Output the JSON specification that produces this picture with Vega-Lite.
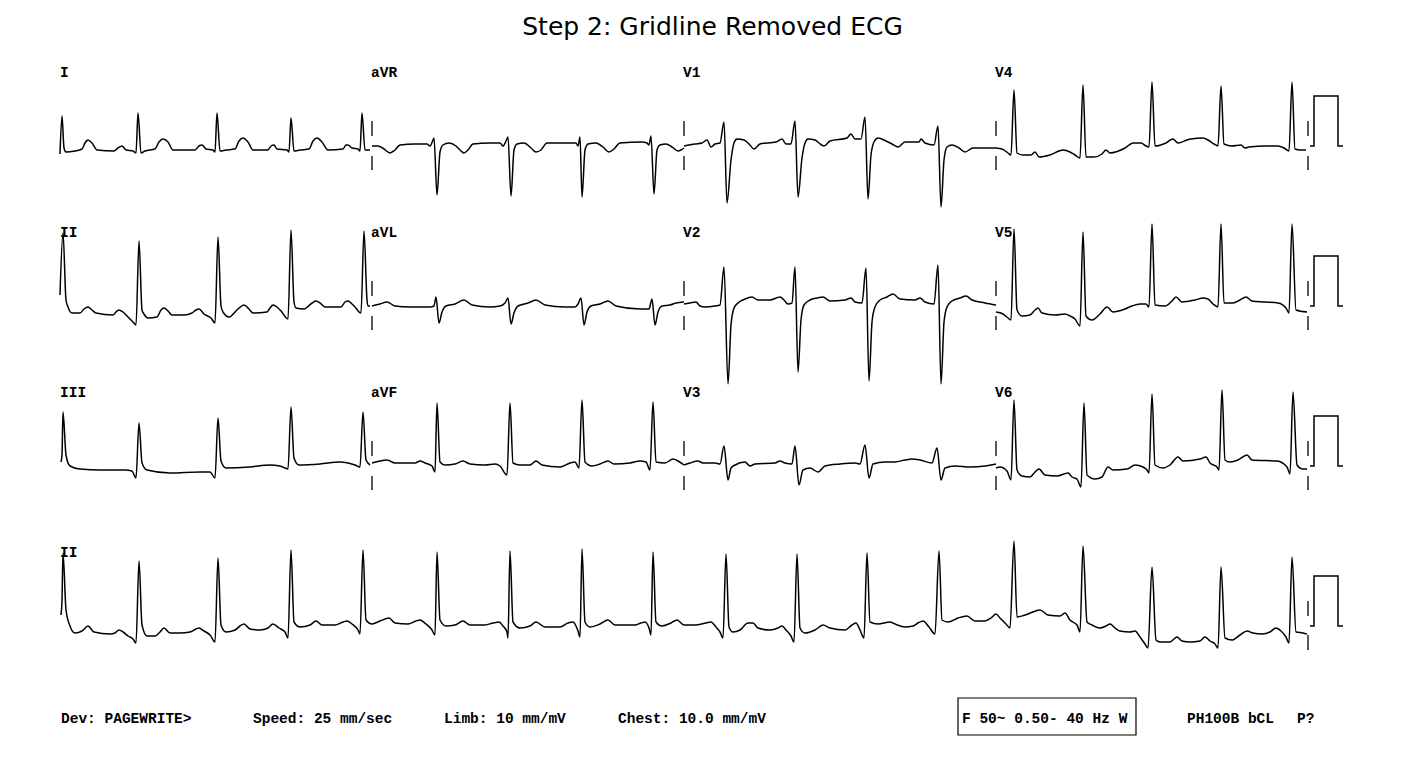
{
"$schema": "https://vega.github.io/schema/vega-lite/v6.json",
"width": 1425, "height": 764,
"autosize": {"type": "fit", "contains": "padding"},
"padding": 0,
"background": "white",
"config": {"view": {"stroke": null}},
"datasets": {
"tr": [
{"s":"I","x":60,"y":154},{"s":"I","x":62,"y":116},{"s":"I","x":64,"y":148},{"s":"I","x":66,"y":152},{"s":"I","x":75,"y":151},{"s":"I","x":82,"y":149},{"s":"I","x":85,"y":143},{"s":"I","x":88,"y":140},{"s":"I","x":92,"y":143},{"s":"I","x":97,"y":150},{"s":"I","x":114,"y":151},{"s":"I","x":118,"y":148},{"s":"I","x":122,"y":146},{"s":"I","x":126,"y":150},{"s":"I","x":133,"y":151},{"s":"I","x":136,"y":153},{"s":"I","x":138,"y":113},{"s":"I","x":141,"y":153},{"s":"I","x":145,"y":151},{"s":"I","x":155,"y":149},{"s":"I","x":159,"y":142},{"s":"I","x":163,"y":139},{"s":"I","x":168,"y":142},{"s":"I","x":173,"y":150},{"s":"I","x":195,"y":150},{"s":"I","x":199,"y":146},{"s":"I","x":202,"y":145},{"s":"I","x":206,"y":149},{"s":"I","x":213,"y":150},{"s":"I","x":215,"y":152},{"s":"I","x":217,"y":113},{"s":"I","x":220,"y":151},{"s":"I","x":226,"y":150},{"s":"I","x":235,"y":149},{"s":"I","x":239,"y":141},{"s":"I","x":243,"y":138},{"s":"I","x":248,"y":142},{"s":"I","x":253,"y":150},{"s":"I","x":268,"y":150},{"s":"I","x":271,"y":146},{"s":"I","x":274,"y":145},{"s":"I","x":277,"y":149},{"s":"I","x":287,"y":150},{"s":"I","x":289,"y":152},{"s":"I","x":291,"y":118},{"s":"I","x":294,"y":151},{"s":"I","x":300,"y":150},{"s":"I","x":309,"y":149},{"s":"I","x":313,"y":141},{"s":"I","x":317,"y":138},{"s":"I","x":322,"y":142},{"s":"I","x":328,"y":150},{"s":"I","x":343,"y":149},{"s":"I","x":346,"y":145},{"s":"I","x":348,"y":145},{"s":"I","x":352,"y":148},{"s":"I","x":358,"y":149},{"s":"I","x":360,"y":151},{"s":"I","x":362,"y":113},{"s":"I","x":365,"y":150},{"s":"I","x":370,"y":150},
{"s":"aVR","x":372,"y":146},{"s":"aVR","x":378,"y":146},{"s":"aVR","x":384,"y":149},{"s":"aVR","x":390,"y":153},{"s":"aVR","x":395,"y":150},{"s":"aVR","x":400,"y":145},{"s":"aVR","x":415,"y":144},{"s":"aVR","x":427,"y":144},{"s":"aVR","x":430,"y":146},{"s":"aVR","x":433,"y":140},{"s":"aVR","x":434,"y":138},{"s":"aVR","x":437,"y":195},{"s":"aVR","x":440,"y":152},{"s":"aVR","x":443,"y":145},{"s":"aVR","x":449,"y":143},{"s":"aVR","x":456,"y":146},{"s":"aVR","x":461,"y":151},{"s":"aVR","x":464,"y":153},{"s":"aVR","x":468,"y":150},{"s":"aVR","x":473,"y":144},{"s":"aVR","x":490,"y":143},{"s":"aVR","x":500,"y":143},{"s":"aVR","x":503,"y":146},{"s":"aVR","x":506,"y":141},{"s":"aVR","x":508,"y":137},{"s":"aVR","x":511,"y":196},{"s":"aVR","x":514,"y":150},{"s":"aVR","x":517,"y":144},{"s":"aVR","x":524,"y":143},{"s":"aVR","x":531,"y":148},{"s":"aVR","x":536,"y":152},{"s":"aVR","x":541,"y":150},{"s":"aVR","x":547,"y":143},{"s":"aVR","x":570,"y":143},{"s":"aVR","x":576,"y":143},{"s":"aVR","x":578,"y":146},{"s":"aVR","x":580,"y":137},{"s":"aVR","x":582,"y":197},{"s":"aVR","x":585,"y":150},{"s":"aVR","x":588,"y":144},{"s":"aVR","x":596,"y":143},{"s":"aVR","x":603,"y":147},{"s":"aVR","x":609,"y":152},{"s":"aVR","x":614,"y":149},{"s":"aVR","x":620,"y":143},{"s":"aVR","x":642,"y":142},{"s":"aVR","x":647,"y":143},{"s":"aVR","x":649,"y":145},{"s":"aVR","x":651,"y":136},{"s":"aVR","x":654,"y":194},{"s":"aVR","x":657,"y":150},{"s":"aVR","x":660,"y":145},{"s":"aVR","x":666,"y":144},{"s":"aVR","x":672,"y":147},{"s":"aVR","x":678,"y":151},{"s":"aVR","x":681,"y":150},{"s":"aVR","x":684,"y":148},
{"s":"V1","x":684,"y":146},{"s":"V1","x":695,"y":144},{"s":"V1","x":702,"y":143},{"s":"V1","x":707,"y":140},{"s":"V1","x":711,"y":147},{"s":"V1","x":715,"y":144},{"s":"V1","x":720,"y":143},{"s":"V1","x":724,"y":122},{"s":"V1","x":727,"y":203},{"s":"V1","x":731,"y":160},{"s":"V1","x":734,"y":143},{"s":"V1","x":737,"y":139},{"s":"V1","x":744,"y":140},{"s":"V1","x":749,"y":144},{"s":"V1","x":754,"y":149},{"s":"V1","x":760,"y":144},{"s":"V1","x":776,"y":142},{"s":"V1","x":782,"y":139},{"s":"V1","x":786,"y":144},{"s":"V1","x":791,"y":144},{"s":"V1","x":795,"y":121},{"s":"V1","x":798,"y":197},{"s":"V1","x":802,"y":158},{"s":"V1","x":805,"y":143},{"s":"V1","x":808,"y":139},{"s":"V1","x":815,"y":140},{"s":"V1","x":819,"y":143},{"s":"V1","x":824,"y":146},{"s":"V1","x":830,"y":141},{"s":"V1","x":847,"y":138},{"s":"V1","x":851,"y":134},{"s":"V1","x":855,"y":139},{"s":"V1","x":861,"y":139},{"s":"V1","x":865,"y":117},{"s":"V1","x":868,"y":199},{"s":"V1","x":871,"y":155},{"s":"V1","x":874,"y":142},{"s":"V1","x":878,"y":138},{"s":"V1","x":886,"y":141},{"s":"V1","x":892,"y":144},{"s":"V1","x":898,"y":147},{"s":"V1","x":905,"y":142},{"s":"V1","x":919,"y":142},{"s":"V1","x":921,"y":139},{"s":"V1","x":925,"y":143},{"s":"V1","x":934,"y":145},{"s":"V1","x":938,"y":126},{"s":"V1","x":941,"y":207},{"s":"V1","x":944,"y":160},{"s":"V1","x":947,"y":147},{"s":"V1","x":952,"y":145},{"s":"V1","x":959,"y":148},{"s":"V1","x":965,"y":152},{"s":"V1","x":973,"y":148},{"s":"V1","x":985,"y":148},{"s":"V1","x":996,"y":148},
{"s":"V4","x":996,"y":148},{"s":"V4","x":1002,"y":149},{"s":"V4","x":1008,"y":153},{"s":"V4","x":1011,"y":155},{"s":"V4","x":1014,"y":90},{"s":"V4","x":1017,"y":153},{"s":"V4","x":1023,"y":155},{"s":"V4","x":1031,"y":155},{"s":"V4","x":1035,"y":152},{"s":"V4","x":1039,"y":157},{"s":"V4","x":1050,"y":155},{"s":"V4","x":1063,"y":150},{"s":"V4","x":1070,"y":152},{"s":"V4","x":1075,"y":155},{"s":"V4","x":1080,"y":158},{"s":"V4","x":1083,"y":85},{"s":"V4","x":1086,"y":157},{"s":"V4","x":1094,"y":157},{"s":"V4","x":1102,"y":154},{"s":"V4","x":1106,"y":150},{"s":"V4","x":1110,"y":153},{"s":"V4","x":1125,"y":148},{"s":"V4","x":1133,"y":143},{"s":"V4","x":1141,"y":143},{"s":"V4","x":1146,"y":146},{"s":"V4","x":1149,"y":147},{"s":"V4","x":1152,"y":82},{"s":"V4","x":1155,"y":146},{"s":"V4","x":1166,"y":143},{"s":"V4","x":1173,"y":139},{"s":"V4","x":1178,"y":143},{"s":"V4","x":1187,"y":140},{"s":"V4","x":1191,"y":139},{"s":"V4","x":1203,"y":138},{"s":"V4","x":1208,"y":140},{"s":"V4","x":1214,"y":144},{"s":"V4","x":1218,"y":146},{"s":"V4","x":1221,"y":86},{"s":"V4","x":1224,"y":144},{"s":"V4","x":1232,"y":146},{"s":"V4","x":1241,"y":145},{"s":"V4","x":1245,"y":148},{"s":"V4","x":1249,"y":147},{"s":"V4","x":1266,"y":146},{"s":"V4","x":1278,"y":146},{"s":"V4","x":1284,"y":148},{"s":"V4","x":1289,"y":151},{"s":"V4","x":1292,"y":82},{"s":"V4","x":1295,"y":149},{"s":"V4","x":1300,"y":150},{"s":"V4","x":1306,"y":150},
{"s":"II","x":60,"y":295},{"s":"II","x":63,"y":233},{"s":"II","x":66,"y":300},{"s":"II","x":68,"y":307},{"s":"II","x":72,"y":313},{"s":"II","x":80,"y":313},{"s":"II","x":84,"y":309},{"s":"II","x":88,"y":307},{"s":"II","x":92,"y":310},{"s":"II","x":96,"y":313},{"s":"II","x":113,"y":315},{"s":"II","x":116,"y":312},{"s":"II","x":119,"y":310},{"s":"II","x":123,"y":312},{"s":"II","x":128,"y":317},{"s":"II","x":133,"y":322},{"s":"II","x":136,"y":325},{"s":"II","x":139,"y":241},{"s":"II","x":142,"y":310},{"s":"II","x":144,"y":314},{"s":"II","x":148,"y":318},{"s":"II","x":157,"y":317},{"s":"II","x":161,"y":310},{"s":"II","x":164,"y":308},{"s":"II","x":168,"y":311},{"s":"II","x":172,"y":315},{"s":"II","x":184,"y":315},{"s":"II","x":192,"y":313},{"s":"II","x":196,"y":310},{"s":"II","x":199,"y":309},{"s":"II","x":204,"y":314},{"s":"II","x":211,"y":318},{"s":"II","x":215,"y":323},{"s":"II","x":218,"y":237},{"s":"II","x":221,"y":306},{"s":"II","x":223,"y":312},{"s":"II","x":229,"y":317},{"s":"II","x":238,"y":309},{"s":"II","x":244,"y":305},{"s":"II","x":249,"y":309},{"s":"II","x":253,"y":313},{"s":"II","x":267,"y":312},{"s":"II","x":270,"y":308},{"s":"II","x":273,"y":305},{"s":"II","x":277,"y":307},{"s":"II","x":281,"y":311},{"s":"II","x":288,"y":319},{"s":"II","x":291,"y":230},{"s":"II","x":294,"y":302},{"s":"II","x":296,"y":308},{"s":"II","x":304,"y":309},{"s":"II","x":312,"y":303},{"s":"II","x":316,"y":301},{"s":"II","x":320,"y":303},{"s":"II","x":325,"y":307},{"s":"II","x":341,"y":307},{"s":"II","x":345,"y":302},{"s":"II","x":348,"y":301},{"s":"II","x":352,"y":304},{"s":"II","x":355,"y":307},{"s":"II","x":361,"y":313},{"s":"II","x":364,"y":231},{"s":"II","x":367,"y":300},{"s":"II","x":368,"y":306},{"s":"II","x":370,"y":306},
{"s":"aVL","x":372,"y":306},{"s":"aVL","x":380,"y":304},{"s":"aVL","x":387,"y":302},{"s":"aVL","x":395,"y":306},{"s":"aVL","x":410,"y":307},{"s":"aVL","x":430,"y":307},{"s":"aVL","x":434,"y":306},{"s":"aVL","x":436,"y":297},{"s":"aVL","x":439,"y":323},{"s":"aVL","x":442,"y":312},{"s":"aVL","x":446,"y":306},{"s":"aVL","x":455,"y":304},{"s":"aVL","x":464,"y":300},{"s":"aVL","x":472,"y":305},{"s":"aVL","x":490,"y":307},{"s":"aVL","x":500,"y":306},{"s":"aVL","x":505,"y":303},{"s":"aVL","x":508,"y":298},{"s":"aVL","x":511,"y":324},{"s":"aVL","x":514,"y":313},{"s":"aVL","x":518,"y":306},{"s":"aVL","x":528,"y":303},{"s":"aVL","x":536,"y":300},{"s":"aVL","x":545,"y":305},{"s":"aVL","x":565,"y":307},{"s":"aVL","x":575,"y":307},{"s":"aVL","x":578,"y":304},{"s":"aVL","x":581,"y":298},{"s":"aVL","x":584,"y":325},{"s":"aVL","x":587,"y":312},{"s":"aVL","x":591,"y":306},{"s":"aVL","x":600,"y":304},{"s":"aVL","x":608,"y":301},{"s":"aVL","x":616,"y":306},{"s":"aVL","x":640,"y":309},{"s":"aVL","x":649,"y":309},{"s":"aVL","x":652,"y":299},{"s":"aVL","x":655,"y":325},{"s":"aVL","x":658,"y":312},{"s":"aVL","x":662,"y":306},{"s":"aVL","x":670,"y":305},{"s":"aVL","x":676,"y":303},{"s":"aVL","x":684,"y":302},
{"s":"V2","x":684,"y":304},{"s":"V2","x":690,"y":303},{"s":"V2","x":696,"y":302},{"s":"V2","x":700,"y":306},{"s":"V2","x":705,"y":307},{"s":"V2","x":715,"y":306},{"s":"V2","x":720,"y":305},{"s":"V2","x":724,"y":267},{"s":"V2","x":728,"y":384},{"s":"V2","x":731,"y":325},{"s":"V2","x":734,"y":308},{"s":"V2","x":738,"y":303},{"s":"V2","x":745,"y":299},{"s":"V2","x":752,"y":297},{"s":"V2","x":758,"y":300},{"s":"V2","x":770,"y":300},{"s":"V2","x":780,"y":297},{"s":"V2","x":784,"y":300},{"s":"V2","x":788,"y":304},{"s":"V2","x":792,"y":303},{"s":"V2","x":795,"y":267},{"s":"V2","x":798,"y":372},{"s":"V2","x":801,"y":320},{"s":"V2","x":804,"y":305},{"s":"V2","x":810,"y":300},{"s":"V2","x":817,"y":298},{"s":"V2","x":823,"y":297},{"s":"V2","x":830,"y":301},{"s":"V2","x":845,"y":300},{"s":"V2","x":851,"y":298},{"s":"V2","x":855,"y":302},{"s":"V2","x":862,"y":303},{"s":"V2","x":866,"y":268},{"s":"V2","x":869,"y":381},{"s":"V2","x":872,"y":322},{"s":"V2","x":875,"y":307},{"s":"V2","x":880,"y":300},{"s":"V2","x":887,"y":297},{"s":"V2","x":893,"y":294},{"s":"V2","x":900,"y":299},{"s":"V2","x":915,"y":300},{"s":"V2","x":920,"y":298},{"s":"V2","x":925,"y":302},{"s":"V2","x":934,"y":304},{"s":"V2","x":938,"y":265},{"s":"V2","x":941,"y":384},{"s":"V2","x":944,"y":322},{"s":"V2","x":947,"y":307},{"s":"V2","x":952,"y":301},{"s":"V2","x":960,"y":298},{"s":"V2","x":966,"y":296},{"s":"V2","x":972,"y":300},{"s":"V2","x":985,"y":303},{"s":"V2","x":996,"y":305},
{"s":"V5","x":996,"y":312},{"s":"V5","x":1003,"y":314},{"s":"V5","x":1008,"y":318},{"s":"V5","x":1011,"y":320},{"s":"V5","x":1014,"y":229},{"s":"V5","x":1017,"y":310},{"s":"V5","x":1022,"y":316},{"s":"V5","x":1030,"y":315},{"s":"V5","x":1035,"y":310},{"s":"V5","x":1038,"y":308},{"s":"V5","x":1042,"y":313},{"s":"V5","x":1055,"y":315},{"s":"V5","x":1065,"y":314},{"s":"V5","x":1070,"y":316},{"s":"V5","x":1075,"y":319},{"s":"V5","x":1080,"y":326},{"s":"V5","x":1083,"y":232},{"s":"V5","x":1086,"y":316},{"s":"V5","x":1092,"y":320},{"s":"V5","x":1100,"y":314},{"s":"V5","x":1107,"y":307},{"s":"V5","x":1113,"y":312},{"s":"V5","x":1125,"y":309},{"s":"V5","x":1132,"y":306},{"s":"V5","x":1140,"y":304},{"s":"V5","x":1146,"y":304},{"s":"V5","x":1149,"y":307},{"s":"V5","x":1152,"y":224},{"s":"V5","x":1155,"y":305},{"s":"V5","x":1165,"y":306},{"s":"V5","x":1172,"y":301},{"s":"V5","x":1176,"y":297},{"s":"V5","x":1182,"y":302},{"s":"V5","x":1195,"y":300},{"s":"V5","x":1203,"y":298},{"s":"V5","x":1208,"y":299},{"s":"V5","x":1213,"y":304},{"s":"V5","x":1218,"y":307},{"s":"V5","x":1221,"y":224},{"s":"V5","x":1224,"y":303},{"s":"V5","x":1233,"y":303},{"s":"V5","x":1240,"y":300},{"s":"V5","x":1246,"y":297},{"s":"V5","x":1252,"y":301},{"s":"V5","x":1265,"y":302},{"s":"V5","x":1278,"y":303},{"s":"V5","x":1286,"y":308},{"s":"V5","x":1289,"y":313},{"s":"V5","x":1292,"y":224},{"s":"V5","x":1296,"y":310},{"s":"V5","x":1307,"y":312},
{"s":"III","x":61,"y":462},{"s":"III","x":62,"y":455},{"s":"III","x":63,"y":412},{"s":"III","x":66,"y":455},{"s":"III","x":70,"y":466},{"s":"III","x":80,"y":469},{"s":"III","x":100,"y":470},{"s":"III","x":125,"y":470},{"s":"III","x":132,"y":471},{"s":"III","x":136,"y":478},{"s":"III","x":139,"y":423},{"s":"III","x":142,"y":463},{"s":"III","x":147,"y":470},{"s":"III","x":170,"y":473},{"s":"III","x":200,"y":472},{"s":"III","x":210,"y":472},{"s":"III","x":215,"y":478},{"s":"III","x":218,"y":418},{"s":"III","x":221,"y":461},{"s":"III","x":226,"y":468},{"s":"III","x":250,"y":467},{"s":"III","x":270,"y":465},{"s":"III","x":280,"y":466},{"s":"III","x":288,"y":469},{"s":"III","x":291,"y":407},{"s":"III","x":294,"y":458},{"s":"III","x":299,"y":465},{"s":"III","x":320,"y":464},{"s":"III","x":340,"y":462},{"s":"III","x":355,"y":465},{"s":"III","x":360,"y":467},{"s":"III","x":363,"y":412},{"s":"III","x":366,"y":460},{"s":"III","x":370,"y":465},
{"s":"aVF","x":372,"y":463},{"s":"aVF","x":380,"y":461},{"s":"aVF","x":387,"y":460},{"s":"aVF","x":395,"y":463},{"s":"aVF","x":415,"y":463},{"s":"aVF","x":420,"y":461},{"s":"aVF","x":425,"y":463},{"s":"aVF","x":432,"y":466},{"s":"aVF","x":435,"y":472},{"s":"aVF","x":437,"y":403},{"s":"aVF","x":440,"y":462},{"s":"aVF","x":445,"y":465},{"s":"aVF","x":455,"y":464},{"s":"aVF","x":463,"y":461},{"s":"aVF","x":470,"y":464},{"s":"aVF","x":485,"y":465},{"s":"aVF","x":495,"y":464},{"s":"aVF","x":500,"y":466},{"s":"aVF","x":507,"y":475},{"s":"aVF","x":510,"y":403},{"s":"aVF","x":513,"y":463},{"s":"aVF","x":520,"y":465},{"s":"aVF","x":530,"y":465},{"s":"aVF","x":536,"y":461},{"s":"aVF","x":542,"y":465},{"s":"aVF","x":560,"y":467},{"s":"aVF","x":570,"y":463},{"s":"aVF","x":575,"y":462},{"s":"aVF","x":579,"y":468},{"s":"aVF","x":582,"y":400},{"s":"aVF","x":585,"y":462},{"s":"aVF","x":592,"y":466},{"s":"aVF","x":600,"y":464},{"s":"aVF","x":608,"y":461},{"s":"aVF","x":614,"y":464},{"s":"aVF","x":630,"y":463},{"s":"aVF","x":640,"y":461},{"s":"aVF","x":646,"y":462},{"s":"aVF","x":650,"y":470},{"s":"aVF","x":653,"y":402},{"s":"aVF","x":656,"y":462},{"s":"aVF","x":665,"y":463},{"s":"aVF","x":673,"y":459},{"s":"aVF","x":678,"y":461},{"s":"aVF","x":684,"y":465},
{"s":"V3","x":684,"y":465},{"s":"V3","x":690,"y":463},{"s":"V3","x":698,"y":461},{"s":"V3","x":703,"y":463},{"s":"V3","x":715,"y":463},{"s":"V3","x":720,"y":464},{"s":"V3","x":724,"y":446},{"s":"V3","x":728,"y":480},{"s":"V3","x":731,"y":468},{"s":"V3","x":735,"y":465},{"s":"V3","x":745,"y":462},{"s":"V3","x":750,"y":466},{"s":"V3","x":755,"y":464},{"s":"V3","x":775,"y":463},{"s":"V3","x":780,"y":461},{"s":"V3","x":785,"y":463},{"s":"V3","x":792,"y":464},{"s":"V3","x":795,"y":446},{"s":"V3","x":799,"y":485},{"s":"V3","x":803,"y":470},{"s":"V3","x":810,"y":468},{"s":"V3","x":818,"y":472},{"s":"V3","x":825,"y":466},{"s":"V3","x":840,"y":464},{"s":"V3","x":855,"y":463},{"s":"V3","x":860,"y":464},{"s":"V3","x":865,"y":445},{"s":"V3","x":869,"y":478},{"s":"V3","x":873,"y":464},{"s":"V3","x":885,"y":462},{"s":"V3","x":895,"y":462},{"s":"V3","x":905,"y":460},{"s":"V3","x":912,"y":459},{"s":"V3","x":920,"y":460},{"s":"V3","x":932,"y":463},{"s":"V3","x":937,"y":448},{"s":"V3","x":941,"y":480},{"s":"V3","x":945,"y":468},{"s":"V3","x":955,"y":466},{"s":"V3","x":970,"y":467},{"s":"V3","x":985,"y":466},{"s":"V3","x":996,"y":464},
{"s":"V6","x":996,"y":468},{"s":"V6","x":1000,"y":467},{"s":"V6","x":1007,"y":471},{"s":"V6","x":1011,"y":480},{"s":"V6","x":1014,"y":400},{"s":"V6","x":1017,"y":470},{"s":"V6","x":1022,"y":476},{"s":"V6","x":1030,"y":477},{"s":"V6","x":1035,"y":472},{"s":"V6","x":1039,"y":469},{"s":"V6","x":1045,"y":475},{"s":"V6","x":1057,"y":476},{"s":"V6","x":1068,"y":473},{"s":"V6","x":1072,"y":477},{"s":"V6","x":1077,"y":479},{"s":"V6","x":1081,"y":487},{"s":"V6","x":1084,"y":403},{"s":"V6","x":1087,"y":475},{"s":"V6","x":1095,"y":479},{"s":"V6","x":1102,"y":477},{"s":"V6","x":1108,"y":467},{"s":"V6","x":1113,"y":470},{"s":"V6","x":1127,"y":469},{"s":"V6","x":1135,"y":465},{"s":"V6","x":1143,"y":467},{"s":"V6","x":1147,"y":470},{"s":"V6","x":1149,"y":473},{"s":"V6","x":1152,"y":394},{"s":"V6","x":1155,"y":465},{"s":"V6","x":1163,"y":468},{"s":"V6","x":1170,"y":465},{"s":"V6","x":1178,"y":457},{"s":"V6","x":1183,"y":461},{"s":"V6","x":1200,"y":459},{"s":"V6","x":1206,"y":457},{"s":"V6","x":1210,"y":463},{"s":"V6","x":1217,"y":467},{"s":"V6","x":1219,"y":470},{"s":"V6","x":1222,"y":390},{"s":"V6","x":1225,"y":460},{"s":"V6","x":1230,"y":462},{"s":"V6","x":1238,"y":460},{"s":"V6","x":1247,"y":455},{"s":"V6","x":1252,"y":460},{"s":"V6","x":1277,"y":461},{"s":"V6","x":1287,"y":467},{"s":"V6","x":1290,"y":474},{"s":"V6","x":1293,"y":392},{"s":"V6","x":1297,"y":465},{"s":"V6","x":1303,"y":469},{"s":"V6","x":1307,"y":469},
{"s":"IIr","x":61,"y":615},{"s":"IIr","x":62,"y":600},{"s":"IIr","x":63,"y":553},{"s":"IIr","x":66,"y":610},{"s":"IIr","x":70,"y":626},{"s":"IIr","x":75,"y":633},{"s":"IIr","x":82,"y":631},{"s":"IIr","x":88,"y":626},{"s":"IIr","x":94,"y":632},{"s":"IIr","x":110,"y":634},{"s":"IIr","x":115,"y":633},{"s":"IIr","x":119,"y":630},{"s":"IIr","x":123,"y":632},{"s":"IIr","x":128,"y":636},{"s":"IIr","x":133,"y":639},{"s":"IIr","x":136,"y":643},{"s":"IIr","x":139,"y":561},{"s":"IIr","x":142,"y":625},{"s":"IIr","x":147,"y":636},{"s":"IIr","x":155,"y":636},{"s":"IIr","x":160,"y":632},{"s":"IIr","x":164,"y":628},{"s":"IIr","x":170,"y":633},{"s":"IIr","x":180,"y":633},{"s":"IIr","x":190,"y":632},{"s":"IIr","x":196,"y":629},{"s":"IIr","x":199,"y":628},{"s":"IIr","x":204,"y":631},{"s":"IIr","x":210,"y":635},{"s":"IIr","x":215,"y":642},{"s":"IIr","x":218,"y":558},{"s":"IIr","x":221,"y":625},{"s":"IIr","x":226,"y":632},{"s":"IIr","x":235,"y":630},{"s":"IIr","x":240,"y":626},{"s":"IIr","x":244,"y":624},{"s":"IIr","x":250,"y":629},{"s":"IIr","x":260,"y":630},{"s":"IIr","x":268,"y":628},{"s":"IIr","x":273,"y":624},{"s":"IIr","x":279,"y":628},{"s":"IIr","x":285,"y":632},{"s":"IIr","x":288,"y":638},{"s":"IIr","x":291,"y":550},{"s":"IIr","x":294,"y":622},{"s":"IIr","x":300,"y":627},{"s":"IIr","x":310,"y":625},{"s":"IIr","x":316,"y":621},{"s":"IIr","x":322,"y":625},{"s":"IIr","x":335,"y":625},{"s":"IIr","x":343,"y":622},{"s":"IIr","x":347,"y":621},{"s":"IIr","x":352,"y":624},{"s":"IIr","x":358,"y":630},{"s":"IIr","x":360,"y":634},{"s":"IIr","x":363,"y":550},{"s":"IIr","x":366,"y":620},{"s":"IIr","x":372,"y":624},{"s":"IIr","x":380,"y":621},{"s":"IIr","x":389,"y":618},{"s":"IIr","x":395,"y":623},{"s":"IIr","x":408,"y":624},{"s":"IIr","x":416,"y":621},{"s":"IIr","x":420,"y":620},{"s":"IIr","x":426,"y":624},{"s":"IIr","x":432,"y":630},{"s":"IIr","x":435,"y":635},{"s":"IIr","x":437,"y":552},{"s":"IIr","x":440,"y":620},{"s":"IIr","x":446,"y":626},{"s":"IIr","x":455,"y":625},{"s":"IIr","x":463,"y":621},{"s":"IIr","x":470,"y":625},{"s":"IIr","x":485,"y":625},{"s":"IIr","x":493,"y":623},{"s":"IIr","x":499,"y":622},{"s":"IIr","x":503,"y":626},{"s":"IIr","x":507,"y":632},{"s":"IIr","x":508,"y":638},{"s":"IIr","x":510,"y":551},{"s":"IIr","x":513,"y":622},{"s":"IIr","x":520,"y":628},{"s":"IIr","x":530,"y":626},{"s":"IIr","x":536,"y":622},{"s":"IIr","x":545,"y":627},{"s":"IIr","x":560,"y":627},{"s":"IIr","x":568,"y":623},{"s":"IIr","x":573,"y":622},{"s":"IIr","x":576,"y":626},{"s":"IIr","x":578,"y":631},{"s":"IIr","x":580,"y":637},{"s":"IIr","x":582,"y":549},{"s":"IIr","x":585,"y":622},{"s":"IIr","x":590,"y":627},{"s":"IIr","x":600,"y":624},{"s":"IIr","x":608,"y":620},{"s":"IIr","x":615,"y":625},{"s":"IIr","x":635,"y":625},{"s":"IIr","x":641,"y":623},{"s":"IIr","x":645,"y":622},{"s":"IIr","x":649,"y":628},{"s":"IIr","x":651,"y":635},{"s":"IIr","x":653,"y":552},{"s":"IIr","x":656,"y":622},{"s":"IIr","x":662,"y":626},{"s":"IIr","x":671,"y":623},{"s":"IIr","x":677,"y":620},{"s":"IIr","x":684,"y":625},{"s":"IIr","x":695,"y":625},{"s":"IIr","x":706,"y":623},{"s":"IIr","x":711,"y":622},{"s":"IIr","x":716,"y":627},{"s":"IIr","x":720,"y":632},{"s":"IIr","x":723,"y":638},{"s":"IIr","x":726,"y":554},{"s":"IIr","x":729,"y":627},{"s":"IIr","x":733,"y":632},{"s":"IIr","x":740,"y":630},{"s":"IIr","x":748,"y":623},{"s":"IIr","x":753,"y":623},{"s":"IIr","x":758,"y":628},{"s":"IIr","x":770,"y":630},{"s":"IIr","x":778,"y":628},{"s":"IIr","x":782,"y":626},{"s":"IIr","x":786,"y":630},{"s":"IIr","x":791,"y":636},{"s":"IIr","x":794,"y":642},{"s":"IIr","x":797,"y":554},{"s":"IIr","x":800,"y":628},{"s":"IIr","x":805,"y":633},{"s":"IIr","x":815,"y":630},{"s":"IIr","x":823,"y":625},{"s":"IIr","x":830,"y":628},{"s":"IIr","x":845,"y":630},{"s":"IIr","x":852,"y":625},{"s":"IIr","x":856,"y":623},{"s":"IIr","x":860,"y":630},{"s":"IIr","x":864,"y":638},{"s":"IIr","x":867,"y":553},{"s":"IIr","x":870,"y":622},{"s":"IIr","x":878,"y":624},{"s":"IIr","x":890,"y":622},{"s":"IIr","x":895,"y":624},{"s":"IIr","x":905,"y":627},{"s":"IIr","x":913,"y":626},{"s":"IIr","x":918,"y":623},{"s":"IIr","x":923,"y":621},{"s":"IIr","x":929,"y":627},{"s":"IIr","x":935,"y":634},{"s":"IIr","x":939,"y":551},{"s":"IIr","x":942,"y":620},{"s":"IIr","x":948,"y":622},{"s":"IIr","x":958,"y":618},{"s":"IIr","x":967,"y":616},{"s":"IIr","x":975,"y":621},{"s":"IIr","x":985,"y":621},{"s":"IIr","x":991,"y":618},{"s":"IIr","x":996,"y":614},{"s":"IIr","x":1000,"y":618},{"s":"IIr","x":1006,"y":624},{"s":"IIr","x":1010,"y":628},{"s":"IIr","x":1014,"y":541},{"s":"IIr","x":1017,"y":617},{"s":"IIr","x":1025,"y":615},{"s":"IIr","x":1033,"y":612},{"s":"IIr","x":1040,"y":610},{"s":"IIr","x":1048,"y":615},{"s":"IIr","x":1060,"y":616},{"s":"IIr","x":1065,"y":613},{"s":"IIr","x":1070,"y":620},{"s":"IIr","x":1077,"y":625},{"s":"IIr","x":1080,"y":632},{"s":"IIr","x":1083,"y":546},{"s":"IIr","x":1087,"y":622},{"s":"IIr","x":1092,"y":625},{"s":"IIr","x":1100,"y":628},{"s":"IIr","x":1106,"y":626},{"s":"IIr","x":1110,"y":624},{"s":"IIr","x":1115,"y":628},{"s":"IIr","x":1120,"y":631},{"s":"IIr","x":1130,"y":632},{"s":"IIr","x":1135,"y":631},{"s":"IIr","x":1140,"y":637},{"s":"IIr","x":1145,"y":644},{"s":"IIr","x":1148,"y":648},{"s":"IIr","x":1152,"y":567},{"s":"IIr","x":1156,"y":640},{"s":"IIr","x":1160,"y":642},{"s":"IIr","x":1170,"y":642},{"s":"IIr","x":1174,"y":639},{"s":"IIr","x":1177,"y":637},{"s":"IIr","x":1182,"y":641},{"s":"IIr","x":1190,"y":642},{"s":"IIr","x":1200,"y":641},{"s":"IIr","x":1205,"y":637},{"s":"IIr","x":1210,"y":641},{"s":"IIr","x":1215,"y":644},{"s":"IIr","x":1218,"y":648},{"s":"IIr","x":1221,"y":567},{"s":"IIr","x":1225,"y":638},{"s":"IIr","x":1232,"y":640},{"s":"IIr","x":1240,"y":635},{"s":"IIr","x":1247,"y":631},{"s":"IIr","x":1253,"y":633},{"s":"IIr","x":1262,"y":634},{"s":"IIr","x":1270,"y":632},{"s":"IIr","x":1276,"y":628},{"s":"IIr","x":1281,"y":631},{"s":"IIr","x":1286,"y":637},{"s":"IIr","x":1289,"y":643},{"s":"IIr","x":1292,"y":557},{"s":"IIr","x":1296,"y":632},{"s":"IIr","x":1303,"y":633},{"s":"IIr","x":1307,"y":634}
],
"cal": [
{"s":"c1","x":1310,"y":146},{"s":"c1","x":1314,"y":146},{"s":"c1","x":1314,"y":96},{"s":"c1","x":1338,"y":96},{"s":"c1","x":1338,"y":146},{"s":"c1","x":1343,"y":146},
{"s":"c2","x":1310,"y":306},{"s":"c2","x":1314,"y":306},{"s":"c2","x":1314,"y":256},{"s":"c2","x":1338,"y":256},{"s":"c2","x":1338,"y":306},{"s":"c2","x":1343,"y":306},
{"s":"c3","x":1310,"y":466},{"s":"c3","x":1314,"y":466},{"s":"c3","x":1314,"y":416},{"s":"c3","x":1338,"y":416},{"s":"c3","x":1338,"y":466},{"s":"c3","x":1343,"y":466},
{"s":"c4","x":1310,"y":626},{"s":"c4","x":1314,"y":626},{"s":"c4","x":1314,"y":576},{"s":"c4","x":1338,"y":576},{"s":"c4","x":1338,"y":626},{"s":"c4","x":1343,"y":626}
],
"tk": [
{"x":372,"y":121,"y2":136},{"x":372,"y":156,"y2":170},{"x":684,"y":121,"y2":136},{"x":684,"y":156,"y2":170},{"x":996,"y":121,"y2":136},{"x":996,"y":156,"y2":170},{"x":1308,"y":121,"y2":136},{"x":1308,"y":156,"y2":170},
{"x":372,"y":281,"y2":296},{"x":372,"y":316,"y2":330},{"x":684,"y":281,"y2":296},{"x":684,"y":316,"y2":330},{"x":996,"y":281,"y2":296},{"x":996,"y":316,"y2":330},{"x":1308,"y":281,"y2":296},{"x":1308,"y":316,"y2":330},
{"x":372,"y":441,"y2":456},{"x":372,"y":476,"y2":490},{"x":684,"y":441,"y2":456},{"x":684,"y":476,"y2":490},{"x":996,"y":441,"y2":456},{"x":996,"y":476,"y2":490},{"x":1308,"y":441,"y2":456},{"x":1308,"y":476,"y2":490},
{"x":1308,"y":601,"y2":616},{"x":1308,"y":635,"y2":650}
],
"tx": [
{"t":"I","x":60,"y":77},{"t":"aVR","x":371,"y":77},{"t":"V1","x":683,"y":77},{"t":"V4","x":995,"y":77},
{"t":"II","x":60,"y":237},{"t":"aVL","x":371,"y":237},{"t":"V2","x":683,"y":237},{"t":"V5","x":995,"y":237},
{"t":"III","x":60,"y":397},{"t":"aVF","x":371,"y":397},{"t":"V3","x":683,"y":397},{"t":"V6","x":995,"y":397},
{"t":"II","x":60,"y":557},
{"t":"Dev: PAGEWRITE>","x":61,"y":723},{"t":"Speed: 25 mm/sec","x":253,"y":723},{"t":"Limb: 10 mm/mV","x":444,"y":723},{"t":"Chest: 10.0 mm/mV","x":618,"y":723},{"t":"F 50~ 0.50- 40 Hz W","x":962,"y":723},{"t":"PH100B bCL","x":1187,"y":723},{"t":"P?","x":1297,"y":723}
]
},
"encoding": {
"x": {"field": "x", "type": "quantitative", "scale": {"domain": [0, 1425], "nice": false, "zero": false}, "axis": null},
"y": {"field": "y", "type": "quantitative", "scale": {"domain": [0, 764], "nice": false, "zero": false, "reverse": true}, "axis": null}
},
"layer": [
{"data": {"name": "tr"}, "mark": {"type": "line", "color": "black", "strokeWidth": 1.5, "strokeJoin": "round", "interpolate": "monotone"}, "encoding": {"detail": {"field": "s"}, "order": {"value": null}}},
{"data": {"name": "cal"}, "mark": {"type": "line", "color": "black", "strokeWidth": 1.5}, "encoding": {"detail": {"field": "s"}, "order": {"value": null}}},
{"data": {"name": "tk"}, "mark": {"type": "rule", "color": "black", "strokeWidth": 1.3}, "encoding": {"y2": {"field": "y2"}}},
{"data": {"values": [{"x": 958, "x2": 1136, "y": 698, "y2": 735}]}, "mark": {"type": "rect", "fill": "white", "fillOpacity": 0, "stroke": "black", "strokeWidth": 1.2}, "encoding": {"x2": {"field": "x2"}, "y2": {"field": "y2"}}},
{"data": {"name": "tx"}, "mark": {"type": "text", "font": "Liberation Mono", "fontWeight": "bold", "fontSize": 14.5, "align": "left", "baseline": "alphabetic", "color": "black"}, "encoding": {"text": {"field": "t"}}},
{"data": {"values": [{"t": "Step 2: Gridline Removed ECG", "x": 712.5, "y": 35}]}, "mark": {"type": "text", "font": "DejaVu Sans", "fontSize": 25, "align": "center", "baseline": "alphabetic", "color": "black"}, "encoding": {"text": {"field": "t"}}}
]
}
